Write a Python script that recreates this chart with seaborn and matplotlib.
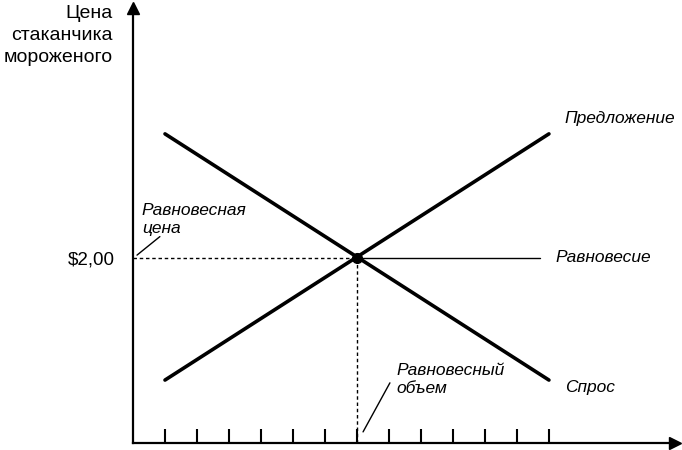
import numpy as np
import seaborn as sns
import matplotlib
matplotlib.use("Agg")
import matplotlib.pyplot as plt

# quantity is in tick units, price in dollars
quantity = [1, 13]
supply_price = [0.68, 3.34]
demand_price = [3.34, 0.68]
eq_quantity = 7
eq_price = 2.00
tick_positions = list(range(1, 14))
price_label = "$2,00"
y_label_lines = ["Цена", "стаканчика", "мороженого"]

sns.set_style("white")
plt.rcParams["font.family"] = ["Liberation Sans", "DejaVu Sans"]

fig = plt.figure(figsize=(6.82, 4.5), dpi=100)
ax = fig.add_axes([133 / 682, 7 / 450, 542 / 682, 435 / 450])
ax.set_xlim(0, 16.94)
ax.set_ylim(0, 4.7)

# supply and demand lines
sns.lineplot(x=quantity, y=supply_price, ax=ax, color="black", lw=2.6)
sns.lineplot(x=quantity, y=demand_price, ax=ax, color="black", lw=2.6)

# equilibrium guides
ax.plot([0, eq_quantity], [eq_price, eq_price], color="black", lw=1, ls=(0, (2.5, 2)))
ax.plot([eq_quantity, eq_quantity], [0, eq_price], color="black", lw=1, ls=(0, (2.5, 2)))
ax.plot([eq_quantity, 12.72], [eq_price, eq_price], color="black", lw=1)
ax.plot(eq_quantity, eq_price, "o", color="black", ms=7, zorder=5)

# axes with arrows
for side in ["top", "right"]:
    ax.spines[side].set_visible(False)
for side in ["left", "bottom"]:
    ax.spines[side].set_linewidth(1.6)
    ax.spines[side].set_color("black")
ax.plot(1, 0, ">", color="black", ms=8, transform=ax.transAxes, clip_on=False)
ax.plot(0, 1, "^", color="black", ms=8, transform=ax.transAxes, clip_on=False)

ax.set_xticks(tick_positions)
ax.set_xticklabels([])
ax.tick_params(axis="x", direction="in", length=10, width=1.5, color="black", bottom=True)
ax.set_yticks([eq_price])
ax.set_yticklabels([price_label], fontsize=13.5, color="black")
ax.tick_params(axis="y", length=0, pad=13, left=True)
ax.set_xlabel("")
ax.set_ylabel("")

# y axis title
for i, line in enumerate(y_label_lines):
    fig.text(113 / 682, 1 - (14 + 22 * i) / 450, line, ha="right", va="center",
             fontsize=14, color="black")

# curve labels
lab = dict(style="italic", fontsize=12.5, va="center", color="black")
ax.text(13.5, 3.51, "Предложение", **lab)
ax.text(13.19, eq_price, "Равновесие", **lab)
ax.text(13.5, 0.605, "Спрос", **lab)

ax.text(0.28, 2.42, "Равновесная\nцена", linespacing=1.25, **lab)
ax.plot([0.125, 0.84], [2.03, 2.23], color="black", lw=1)

ax.text(8.22, 0.69, "Равновесный\nобъем", linespacing=1.25, **lab)
ax.plot([7.19, 8.03], [0.12, 0.65], color="black", lw=1)

fig.savefig("out.png", dpi=100)
